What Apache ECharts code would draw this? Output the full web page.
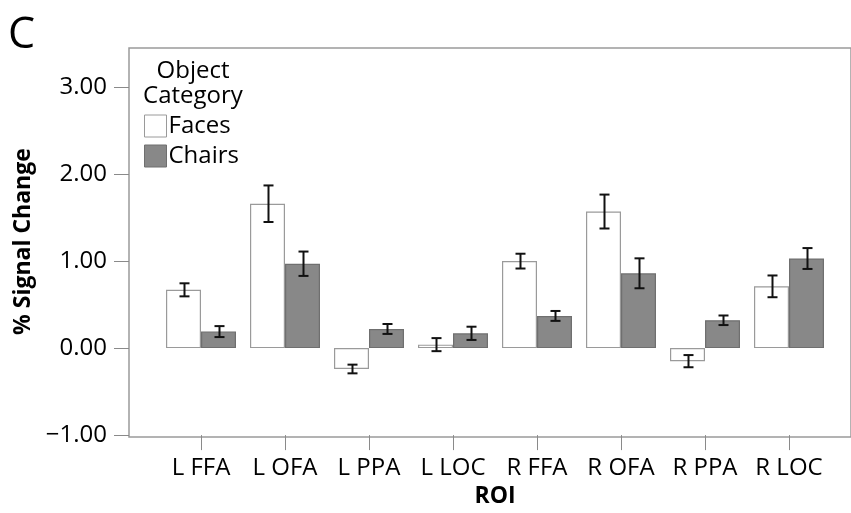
<!DOCTYPE html>
<html>
<head>
<meta charset="utf-8">
<style>
  html, body { margin: 0; padding: 0; background: #fff; }
  #chart { width: 851px; height: 513px; }
</style>
<script src="https://cdn.jsdelivr.net/npm/echarts@6/dist/echarts.min.js"></script>
</head>
<body>
<div id="chart"></div>
<script>
// ROI labels along the x axis
const categories = ['L FFA', 'L OFA', 'L PPA', 'L LOC', 'R FFA', 'R OFA', 'R PPA', 'R LOC'];
// Mean % signal change per ROI and its error (half-length of the error bar)
const faces = [0.67, 1.66, -0.24, 0.04, 1.00, 1.57, -0.15, 0.71];
const facesErr = [0.075, 0.21, 0.05, 0.075, 0.085, 0.195, 0.07, 0.125];
const chairs = [0.19, 0.97, 0.22, 0.17, 0.37, 0.86, 0.32, 1.03];
const chairsErr = [0.063, 0.14, 0.057, 0.076, 0.057, 0.172, 0.055, 0.12];
// Labelled ticks on the value axis
const yTicks = [-1, 0, 1, 2, 3];

const FONT = '"Open Sans", "Noto Sans", sans-serif';
const CAT_GAP = 1 / 6;

const errData = [];
categories.forEach((c, i) => {
  errData.push([i, faces[i], facesErr[i], -1]);
  errData.push([i, chairs[i], chairsErr[i], 1]);
});

const chart = echarts.init(document.getElementById('chart'), null, { renderer: 'canvas' });

chart.setOption({
  animation: false,
  backgroundColor: '#ffffff',
  textStyle: { fontFamily: FONT },
  title: {
    text: 'C',
    left: 8,
    top: 14,
    padding: 0,
    textStyle: { fontFamily: FONT, fontSize: 43, fontWeight: 'normal', color: '#000' }
  },
  graphic: [{
    type: 'text',
    x: 193,
    y: 59,
    style: {
      text: 'Object\nCategory',
      align: 'center',
      verticalAlign: 'top',
      fontFamily: FONT,
      fontSize: 24,
      lineHeight: 25,
      fill: '#000'
    }
  }],
  legend: {
    orient: 'vertical',
    left: 144,
    top: 114,
    padding: 0,
    itemWidth: 22,
    itemHeight: 22,
    itemGap: 6,
    icon: 'rect',
    textStyle: { fontFamily: FONT, fontSize: 24, color: '#000', padding: [0, 0, 0, -3] },
    data: [
      { name: 'Faces', itemStyle: { color: '#ffffff', borderColor: '#9a9a9a', borderWidth: 1 } },
      { name: 'Chairs', itemStyle: { color: '#888888', borderColor: '#6f6f6f', borderWidth: 1 } }
    ]
  },
  grid: [
    { left: 159, right: 20, top: 48, bottom: 76, containLabel: false },
    // plot frame
    { left: 129, right: -4, top: 48, bottom: 76, show: true, borderColor: '#9a9a9a', borderWidth: 1.5, backgroundColor: 'transparent' }
  ],
  xAxis: [
    {
      type: 'category',
      gridIndex: 0,
      data: categories,
      name: 'ROI',
      nameLocation: 'middle',
      nameGap: 42,
      nameTextStyle: { fontFamily: FONT, fontSize: 23, fontWeight: 'bold', color: '#000' },
      axisLine: { show: false, onZero: false },
      axisTick: { show: true, interval: 0, alignWithLabel: true, length: 15, lineStyle: { color: '#8a8a8a', width: 1 } },
      axisLabel: { interval: 0, margin: 21, fontFamily: FONT, fontSize: 24, color: '#000' },
      splitLine: { show: false }
    },
    { type: 'value', gridIndex: 1, show: false, min: 0, max: 1 }
  ],
  yAxis: [
    {
      type: 'value',
      gridIndex: 0,
      min: -1,
      max: 3.45,
      interval: 1,
      offset: 30,
      name: '% Signal Change',
      nameLocation: 'middle',
      nameRotate: 90,
      nameGap: 93,
      nameTextStyle: { fontFamily: FONT, fontSize: 23, fontWeight: 'bold', color: '#000' },
      axisLine: { show: false, onZero: false },
      axisTick: { show: true, length: 15, customValues: yTicks, lineStyle: { color: '#8a8a8a', width: 1 } },
      axisLabel: {
        margin: 22,
        fontFamily: FONT,
        fontSize: 24,
        color: '#000',
        customValues: yTicks,
        formatter: v => (v < 0 ? '\u2212' : '') + Math.abs(v).toFixed(2)
      },
      splitLine: { show: false }
    },
    { type: 'value', gridIndex: 1, show: false, min: 0, max: 1 }
  ],
  series: [
    {
      name: 'Faces',
      type: 'bar',
      xAxisIndex: 0,
      yAxisIndex: 0,
      data: faces,
      barGap: '0%',
      barCategoryGap: (CAT_GAP * 100).toFixed(2) + '%',
      itemStyle: { color: '#ffffff', borderColor: '#9a9a9a', borderWidth: 1.2 }
    },
    {
      name: 'Chairs',
      type: 'bar',
      xAxisIndex: 0,
      yAxisIndex: 0,
      data: chairs,
      barGap: '0%',
      barCategoryGap: (CAT_GAP * 100).toFixed(2) + '%',
      itemStyle: { color: '#888888', borderColor: '#6f6f6f', borderWidth: 1.2 }
    },
    {
      name: 'errors',
      type: 'custom',
      xAxisIndex: 0,
      yAxisIndex: 0,
      z: 10,
      data: errData,
      encode: { x: 0, y: 1 },
      renderItem: function (params, api) {
        const i = api.value(0);
        const v = api.value(1);
        const e = api.value(2);
        const side = api.value(3);
        const band = api.size([1, 0])[0];
        const off = side * band * (1 - CAT_GAP) / 4;
        const hi = api.coord([i, v + e]);
        const lo = api.coord([i, v - e]);
        const x = Math.round(hi[0] + off) + 0.5;
        const cap = 5;
        const style = { stroke: '#111', lineWidth: 2, fill: null };
        return {
          type: 'group',
          children: [
            { type: 'line', shape: { x1: x, y1: hi[1], x2: x, y2: lo[1] }, style: style },
            { type: 'line', shape: { x1: x - cap, y1: hi[1], x2: x + cap, y2: hi[1] }, style: style },
            { type: 'line', shape: { x1: x - cap, y1: lo[1], x2: x + cap, y2: lo[1] }, style: style }
          ]
        };
      }
    }
  ]
});
</script>
</body>
</html>
